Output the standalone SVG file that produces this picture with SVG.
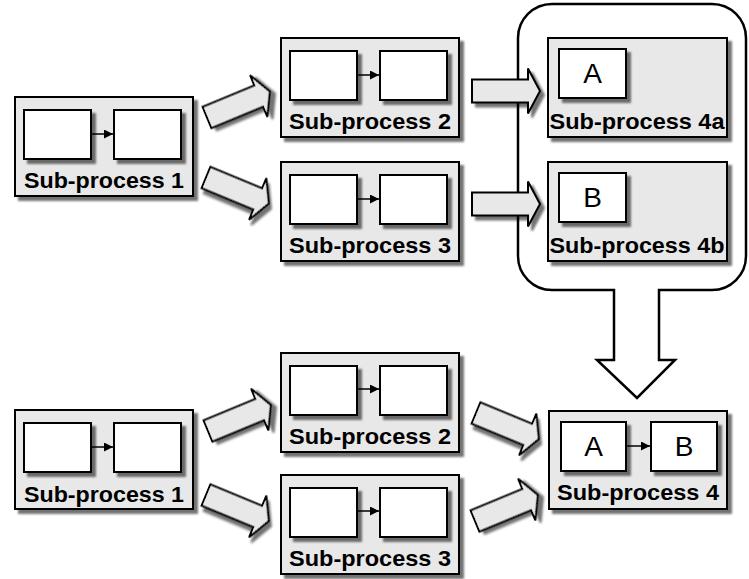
<svg xmlns="http://www.w3.org/2000/svg" xmlns:xlink="http://www.w3.org/1999/xlink" width="749" height="579" viewBox="0 0 749 579">
<style>
.box{fill:#e8e8e8;stroke:#000;stroke-width:2;filter:url(#sh)}
.inner{fill:#fff;stroke:#000;stroke-width:2;filter:url(#sh)}
.blk{fill:#e8e8e8;stroke:#000;stroke-width:2;stroke-linejoin:miter;filter:url(#sh)}
.link{stroke:#000;stroke-width:1.5;marker-end:url(#ah)}
.lbl{font-family:"Liberation Sans",Arial,sans-serif;font-weight:bold;font-size:22px;text-anchor:middle;fill:#000}
.big{font-family:"Liberation Sans",Arial,sans-serif;font-size:28px;text-anchor:middle;fill:#000}
</style>
<defs>
<filter id="sh" x="-20%" y="-20%" width="150%" height="150%">
<feGaussianBlur in="SourceAlpha" stdDeviation="1"/>
<feOffset dx="4" dy="4"/>
<feComponentTransfer><feFuncA type="linear" slope="0.55"/></feComponentTransfer>
<feMerge><feMergeNode/><feMergeNode in="SourceGraphic"/></feMerge>
</filter>
<marker id="ah" viewBox="0 0 10 10" refX="10" refY="5" markerWidth="6" markerHeight="6" orient="auto" markerUnits="strokeWidth">
<path d="M0,0 L10,5 L0,10 Z" fill="#000"/>
</marker>
<path id="ba" d="M0,-11.5 H56 V-22.5 L68,0 L56,22.5 V11.5 H0 Z"/>
</defs>

<g id="group-container">
<path d="M614,290 H552 A34,34 0 0 1 518,256 V38 A34,34 0 0 1 552,4 H712 A34,34 0 0 1 746,38 V256 A34,34 0 0 1 712,290 H659 V360 H675 L637,398 L597,360 H614 Z" fill="#fff" stroke="#000" stroke-width="2.5" stroke-linejoin="miter"/>
</g>

<g id="top-sp1">
<rect class="box" x="15" y="97" width="178" height="99"/>
<rect class="inner" x="24" y="110" width="67" height="49"/>
<rect class="inner" x="114" y="110" width="67" height="49"/>
<line class="link" x1="91" y1="134" x2="113" y2="134"/>
<text class="lbl" x="104" y="188" textLength="160" lengthAdjust="spacingAndGlyphs">Sub-process 1</text>
</g>

<g id="top-sp2">
<rect class="box" x="281" y="38" width="178" height="99"/>
<rect class="inner" x="290" y="51" width="67" height="49"/>
<rect class="inner" x="380" y="51" width="67" height="49"/>
<line class="link" x1="357" y1="75" x2="379" y2="75"/>
<text class="lbl" x="370" y="129" textLength="162" lengthAdjust="spacingAndGlyphs">Sub-process 2</text>
</g>

<g id="top-sp3">
<rect class="box" x="281" y="162" width="178" height="99"/>
<rect class="inner" x="290" y="175" width="67" height="49"/>
<rect class="inner" x="380" y="175" width="67" height="49"/>
<line class="link" x1="357" y1="199" x2="379" y2="199"/>
<text class="lbl" x="370" y="253" textLength="162" lengthAdjust="spacingAndGlyphs">Sub-process 3</text>
</g>

<g id="sp4a">
<rect class="box" x="548" y="38" width="179" height="99"/>
<rect class="inner" x="559" y="49" width="67" height="49"/>
<text class="big" x="592.5" y="83">A</text>
<text class="lbl" x="637" y="129" textLength="175" lengthAdjust="spacingAndGlyphs">Sub-process 4a</text>
</g>

<g id="sp4b">
<rect class="box" x="548" y="162" width="179" height="99"/>
<rect class="inner" x="559" y="173" width="67" height="49"/>
<text class="big" x="592.5" y="207">B</text>
<text class="lbl" x="637" y="253" textLength="175" lengthAdjust="spacingAndGlyphs">Sub-process 4b</text>
</g>

<g id="bottom-sp1">
<rect class="box" x="15" y="410" width="178" height="99"/>
<rect class="inner" x="24" y="423" width="67" height="49"/>
<rect class="inner" x="114" y="423" width="67" height="49"/>
<line class="link" x1="91" y1="447" x2="113" y2="447"/>
<text class="lbl" x="104" y="502" textLength="160" lengthAdjust="spacingAndGlyphs">Sub-process 1</text>
</g>

<g id="bottom-sp2">
<rect class="box" x="281" y="353" width="178" height="99"/>
<rect class="inner" x="290" y="366" width="67" height="49"/>
<rect class="inner" x="380" y="366" width="67" height="49"/>
<line class="link" x1="357" y1="389" x2="379" y2="389"/>
<text class="lbl" x="370" y="444" textLength="162" lengthAdjust="spacingAndGlyphs">Sub-process 2</text>
</g>

<g id="bottom-sp3">
<rect class="box" x="281" y="475" width="178" height="99"/>
<rect class="inner" x="290" y="488" width="67" height="49"/>
<rect class="inner" x="380" y="488" width="67" height="49"/>
<line class="link" x1="357" y1="511" x2="379" y2="511"/>
<text class="lbl" x="370" y="566" textLength="162" lengthAdjust="spacingAndGlyphs">Sub-process 3</text>
</g>

<g id="sp4">
<rect class="box" x="549" y="411" width="178" height="98"/>
<rect class="inner" x="561" y="422" width="65" height="49"/>
<rect class="inner" x="651" y="422" width="66" height="49"/>
<line class="link" x1="626" y1="446" x2="650" y2="446"/>
<text class="big" x="593.5" y="456">A</text>
<text class="big" x="684" y="456">B</text>
<text class="lbl" x="638" y="500" textLength="162" lengthAdjust="spacingAndGlyphs">Sub-process 4</text>
</g>

<g id="connectors">
<use xlink:href="#ba" class="blk" transform="translate(207,117.5) rotate(-22.5)"/>
<use xlink:href="#ba" class="blk" transform="translate(206,177.5) rotate(22.5)"/>
<use xlink:href="#ba" class="blk" transform="translate(472,91)"/>
<use xlink:href="#ba" class="blk" transform="translate(472,204)"/>
<use xlink:href="#ba" class="blk" transform="translate(208,431) rotate(-22.5)"/>
<use xlink:href="#ba" class="blk" transform="translate(206,495) rotate(22.5)"/>
<use xlink:href="#ba" class="blk" transform="translate(476,413) rotate(22.5)"/>
<use xlink:href="#ba" class="blk" transform="translate(475,521) rotate(-22.5)"/>
</g>
</svg>
